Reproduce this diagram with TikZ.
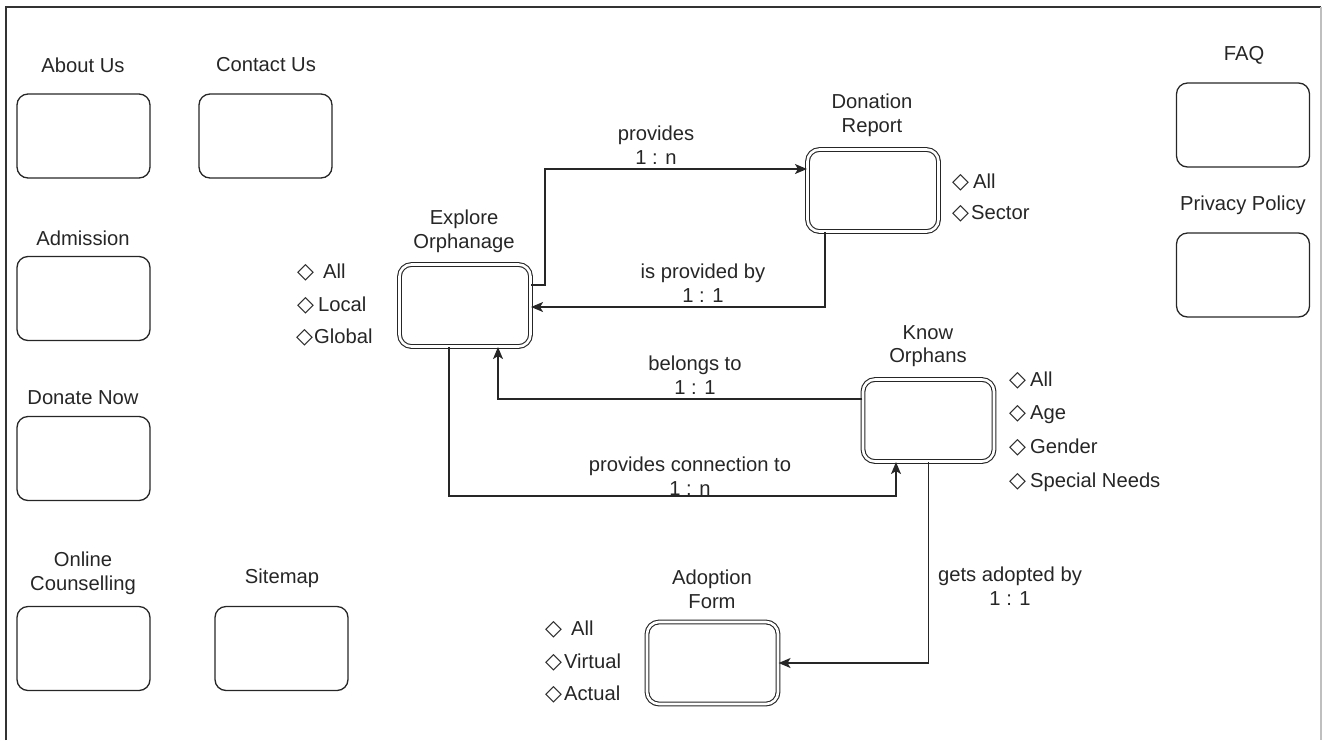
\documentclass[tikz,border=0pt]{standalone}
\usepackage{fontspec}
\setmainfont{Liberation Sans}
\newfontfamily\symf{DejaVu Sans}
\usetikzlibrary{arrows.meta}
\newcommand{\dm}{{\symf\fontsize{22}{22}\selectfont ◇}}
\begin{document}
\begin{tikzpicture}[x=1pt,y=-1pt,
  txt/.style={font=\fontsize{20.2}{23.5}\selectfont, text=black!85, inner sep=0pt, align=center},
  opt/.style={txt, anchor=west, align=left},
  pagebox/.style={draw=black!85, line width=1.3pt, rounded corners=11pt, minimum width=133pt, minimum height=84pt, inner sep=0pt},
  entbox/.style={draw=black!85, line width=1.1pt, double=white, double distance=2.6pt, rounded corners=12pt, minimum width=131pt, minimum height=82pt, inner sep=0pt},
  conn/.style={draw=black!85, line width=1.5pt, -{Stealth[length=12pt,width=10pt,inset=3pt]}}
]
\useasboundingbox (0,0) rectangle (1322,740);
% frame
\draw[line width=1.4pt, black!80] (6,740) -- (6,7) -- (1321,7);
\draw[line width=1.2pt, black!25] (1321,7) -- (1321,740);

% simple page boxes
\node[pagebox] (about) at (83.5,136) {};
\node[txt] (aboutL) at (83,65) {About Us};
\node[pagebox] (contact) at (265.5,136) {};
\node[txt] (contactL) at (266,65) {Contact Us};
\node[pagebox] (admission) at (83.5,298.5) {};
\node[txt] (admissionL) at (83,238) {Admission};
\node[pagebox] (donate) at (83.5,458.5) {};
\node[txt] (donateL) at (83,398) {Donate Now};
\node[pagebox] (online) at (83.5,648.5) {};
\node[txt] (onlineL) at (83,573.5) {Online\\Counselling};
\node[pagebox] (sitemap) at (281.5,648.5) {};
\node[txt] (sitemapL) at (282,578) {Sitemap};
\node[pagebox] (faq) at (1243,125) {};
\node[txt] (faqL) at (1244,55) {FAQ};
\node[pagebox] (privacy) at (1243,275) {};
\node[txt] (privacyL) at (1243,205) {Privacy Policy};

% entity boxes
\node[entbox] (explore) at (465,305.5) {};
\node[txt] (exploreL) at (464,231.5) {Explore\\Orphanage};
\node[entbox] (donation) at (873,190.5) {};
\node[txt] (donationL) at (872,115.5) {Donation\\Report};
\node[entbox] (know) at (928.5,420.5) {};
\node[txt] (knowL) at (928,346) {Know\\Orphans};
\node[entbox] (adoption) at (712.5,663) {};
\node[txt] (adoptionL) at (712,589.5) {Adoption\\Form};

% options
\node[opt] (eo1) at (297,273) {\dm\hspace{9pt}All};
\node[opt] (eo2) at (297,306) {\dm\hspace{4pt}Local};
\node[opt] (eo3) at (296,338) {\dm\hspace{1pt}Global};
\node[opt] (do1) at (952,183) {\dm\hspace{4pt}All};
\node[opt] (do2) at (952,214) {\dm\hspace{2pt}Sector};
\node[opt] (ko1) at (1009,381) {\dm\hspace{4pt}All};
\node[opt] (ko2) at (1009,415) {\dm\hspace{4pt}Age};
\node[opt] (ko3) at (1009,448) {\dm\hspace{4pt}Gender};
\node[opt] (ko4) at (1009,482) {\dm\hspace{4pt}Special Needs};
\node[opt] (ao1) at (545,630) {\dm\hspace{9pt}All};
\node[opt] (ao2) at (545,663) {\dm\hspace{2pt}Virtual};
\node[opt] (ao3) at (545,695) {\dm\hspace{2pt}Actual};

% connectors
\draw[conn] ([yshift=20.5pt]explore.east) -- ++(14,0) |- ([yshift=21.5pt]donation.west);
\draw[conn] ([xshift=-48pt]donation.south) |- ([yshift=-1.5pt]explore.east);
\draw[conn] ([yshift=21.5pt]know.west) -| ([xshift=33pt]explore.south);
\draw[conn] ([xshift=-16pt]explore.south) -- ++(0,149) -| ([xshift=-32.5pt]know.south);
\draw[conn] (know.south) |- (adoption.east);

% connector labels
\node[txt] (l1) at (656,145) {provides\\1 : n};
\node[txt] (l2) at (703,283) {is provided by\\1 : 1};
\node[txt] (l3) at (695,375) {belongs to\\1 : 1};
\node[txt] (l4) at (690,476) {provides connection to\\1 : n};
\node[txt] (l5) at (1010,586) {gets adopted by\\1 : 1};
\end{tikzpicture}
\end{document}
